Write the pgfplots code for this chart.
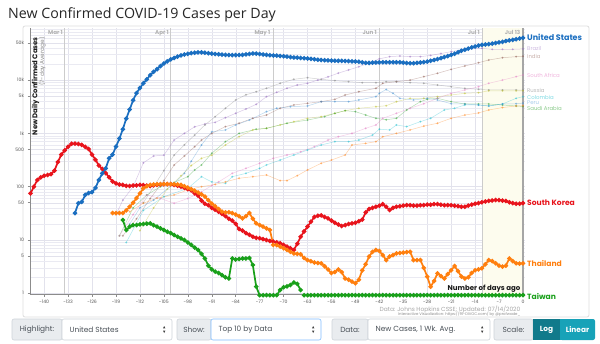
\documentclass[border=0pt]{standalone}
\usepackage{fontspec}
\setmainfont{Poppins}
\newfontfamily\titlefont{Open Sans}
\usepackage{pgfplots}
\pgfplotsset{compat=1.18}
\definecolor{usblue}{HTML}{1A6EC0}
\definecolor{skred}{HTML}{E8141C}
\definecolor{thor}{HTML}{FF7F0E}
\definecolor{twgreen}{HTML}{19A01A}
\definecolor{brpurple}{HTML}{9467BD}
\definecolor{inbrown}{HTML}{8C564B}
\definecolor{sapink}{HTML}{E377C2}
\definecolor{rugray}{HTML}{7F7F7F}
\definecolor{mxolive}{HTML}{BCBD22}
\definecolor{cocyan}{HTML}{17BECF}
\definecolor{peblue}{HTML}{3B8ED0}
\definecolor{sagreen}{HTML}{2CA02C}
\definecolor{arorange}{HTML}{FF7F0E}
\definecolor{gridc}{HTML}{EAEAF2}
\definecolor{gridm}{HTML}{E2E2EC}
\definecolor{lblbg}{HTML}{E9ECEF}
\definecolor{lblbd}{HTML}{CED4DA}
\definecolor{lbltx}{HTML}{495057}
\definecolor{focus}{HTML}{80BDFF}
\definecolor{tealdk}{HTML}{117A8B}
\definecolor{tealbtn}{HTML}{17A2B8}
\definecolor{recentbg}{HTML}{FDFCEE}
\begin{document}
\begin{tikzpicture}[x=1pt,y=1pt]
\useasboundingbox (0,0) rectangle (600,343);
\fill[white] (0,0) rectangle (600,343);
% container
\draw[black!13, line width=0.8pt, rounded corners=2pt] (23,26) rectangle (589,317);
% title
\node[anchor=base west, inner sep=0, font=\titlefont\fontsize{14.2}{14}\selectfont, text=black!85] at (8,324.5) {New Confirmed COVID-19 Cases per Day};

\begin{axis}[
  at={(30.5pt,49pt)}, anchor=south west, scale only axis,
  width=494.2pt, height=266pt,
  xmin=-144, xmax=0.5, ymode=log, ymin=0.97, ymax=94900,
  clip=false,
  axis x line*=bottom, axis y line*=left,
  axis line style={black!45, line width=0.6pt},
  tick align=outside, major tick length=3pt, minor tick length=0pt,
  tick style={black!45, line width=0.5pt},
  xtick={-140,-133,...,0},
  xticklabels={-140,-133,-126,-119,-112,-105,-98,-91,-84,-77,-70,-63,-56,-49,-42,-35,-28,-21,-14,-7,0},
  ytick={1,5,10,50,100,500,1000,5000,10000,50000},
  yticklabels={1,5,10,50,100,500,1k,5k,10k,50k},
  minor ytick={2,3,4,6,7,8,9,20,30,40,60,70,80,90,200,300,400,600,700,800,900,2000,3000,4000,6000,7000,8000,9000,20000,30000,40000,60000,70000,80000,90000},
  xmajorgrids, ymajorgrids, yminorgrids,
  major grid style={gridm, line width=0.4pt},
  minor grid style={gridc, line width=0.4pt},
  /pgf/number format/assume math mode=true,
  xticklabel style={font=\fontsize{4.6}{5}\selectfont, text=black!65},
  yticklabel style={font=\fontsize{4.6}{5}\selectfont, text=black!65},
  faint/.style={line width=0.5pt, mark=*, mark size=0.8pt, opacity=0.35},
  main/.style={line width=1.7pt, mark=*, mark size=1.3pt},
]
% recent shading
\fill[recentbg] (axis cs:-12,0.97) rectangle (axis cs:0,94900);
% month lines
\foreach \d in {-134,-103,-73,-42,-12} {
  \edef\tmp{\noexpand\draw[black!20, line width=0.7pt] (axis cs:\d,0.97) -- (axis cs:\d,94900);}
  \tmp
}

% faint series
\addplot[faint, color=brpurple] coordinates {(-119,30) (-117,56) (-114,100) (-111,280) (-108,377) (-105,390) (-102,750) (-99,1000) (-96,1330) (-93,1500) (-90,1610) (-87,1970) (-84,2380) (-81,2870) (-78,3510) (-75,4890) (-72,5900) (-69,7020) (-66,8090) (-63,8710) (-60,10000) (-57,11500) (-54,13500) (-51,15500) (-48,17800) (-45,21000) (-42,25000) (-39,27500) (-36,28300) (-33,27500) (-30,27500) (-27,29000) (-24,31500) (-21,34100) (-18,37000) (-15,39000) (-12,39500) (-9,37800) (-6,37800) (-3,37800) (0,38500)};
\addplot[faint, color=inbrown] coordinates {(-117,12) (-113,25) (-109,60) (-105,130) (-102,255) (-99,377) (-96,563) (-94,750) (-91,1000) (-87,1340) (-83,1550) (-79,1920) (-75,2210) (-71,2960) (-67,3410) (-63,3670) (-59,3940) (-55,4360) (-52,5250) (-48,6060) (-43,7010) (-41,8710) (-37,9330) (-33,10000) (-29,11600) (-25,13400) (-21,15900) (-17,18400) (-13,21200) (-10,23800) (-6,26300) (-2,27500) (0,28000)};
\addplot[faint, color=rugray] coordinates {(-111,50) (-108,100) (-105,200) (-102,390) (-99,610) (-96,930) (-93,1440) (-90,2060) (-87,2960) (-84,4240) (-81,5300) (-78,6060) (-75,7010) (-71,8710) (-67,10350) (-63,11100) (-59,10350) (-55,9750) (-51,9330) (-47,8940) (-43,8940) (-40,9330) (-37,9330) (-33,8940) (-29,8710) (-25,8090) (-21,7510) (-17,7010) (-13,6710) (-10,6520) (-6,6520) (-2,6520) (0,6500)};
\addplot[faint, color=mxolive] coordinates {(-112,15) (-108,40) (-104,90) (-100,160) (-97,250) (-94,340) (-91,390) (-87,606) (-83,867) (-79,1160) (-75,1245) (-71,1440) (-67,1660) (-63,1920) (-59,2060) (-55,2380) (-52,2670) (-48,2960) (-43,3170) (-40,3300) (-37,3940) (-33,4550) (-29,4550) (-25,4890) (-21,5250) (-17,5650) (-13,5800) (-10,6300) (-6,6300) (-2,6300) (0,6300)};
\addplot[faint, color=sagreen] coordinates {(-118,12) (-114,40) (-110,70) (-106,100) (-102,120) (-98,154) (-96,206) (-94,256) (-91,423) (-87,700) (-83,1000) (-78,1200) (-75,1245) (-69,1550) (-63,1780) (-58,2060) (-55,2380) (-52,2670) (-49,2560) (-46,2210) (-43,1920) (-40,1800) (-37,1920) (-34,2750) (-30,3940) (-28,4360) (-25,4550) (-21,3940) (-17,3560) (-13,3560) (-10,3560) (-6,3410) (-2,3270) (0,3200)};
\addplot[faint, color=cocyan] coordinates {(-116,9) (-111,36) (-105,65) (-98,93) (-94,154) (-91,123) (-87,116) (-85,154) (-81,178) (-77,221) (-75,256) (-71,316) (-67,393) (-63,488) (-59,606) (-55,700) (-51,700) (-48,750) (-44,930) (-42,1200) (-39,1160) (-37,1440) (-34,1340) (-30,1660) (-27,1920) (-23,2750) (-20,2960) (-17,3410) (-13,3410) (-10,3270) (-6,3560) (-2,4550) (0,4890)};
\addplot[faint, color=peblue] coordinates {(-115,20) (-112,40) (-108,56) (-102,116) (-99,178) (-97,300) (-94,606) (-91,1070) (-87,1160) (-84,1440) (-80,1780) (-75,2560) (-72,2960) (-68,3170) (-63,3270) (-59,3940) (-55,3940) (-51,3940) (-48,4240) (-43,4890) (-42,5650) (-40,6650) (-38,5650) (-36,4550) (-32,4240) (-28,4550) (-25,4240) (-21,3600) (-17,3560) (-13,3410) (-10,3270) (-6,3560) (-2,3600) (0,3700)};
\addplot[faint, color=arorange] coordinates {(-115,34) (-111,49) (-107,61) (-102,70) (-98,87) (-94,100) (-90,110) (-87,123) (-83,144) (-79,154) (-75,166) (-71,130) (-69,130) (-66,161) (-63,206) (-59,275) (-56,316) (-52,393) (-50,606) (-46,650) (-43,700) (-41,867) (-37,1000) (-33,1160) (-29,1370) (-25,1550) (-21,1920) (-17,2210) (-13,2420) (-10,2750) (-6,3050) (-2,3270) (0,3300)};
\addplot[faint, color=sapink] coordinates {(-118,12) (-114,30) (-110,70) (-106,60) (-102,49) (-98,60) (-94,80) (-91,105) (-89,123) (-85,178) (-81,221) (-77,275) (-73,341) (-69,393) (-65,453) (-61,563) (-57,750) (-54,867) (-50,1000) (-46,1245) (-43,1440) (-41,1920) (-37,2380) (-33,2960) (-29,3600) (-25,4550) (-21,5650) (-17,6520) (-13,7510) (-10,8710) (-6,10000) (-2,11600) (0,12500)};

% Taiwan
\addplot[main, color=twgreen] coordinates {(-117,23.7) (-116,15.4) (-115,17.8) (-114,19) (-113,19.1) (-112,19.6) (-111,20) (-110,20.2) (-109,20.5) (-108,19) (-107,17.8) (-106,16.5) (-105,15.4) (-104,14.3) (-103,13.4) (-102,12.4) (-101,11.5) (-100,10.7) (-99,10) (-98,9) (-97,8.1) (-96,7.2) (-95,6.5) (-94,5.5) (-93,4.5) (-92,3.3) (-91,2.8) (-90,2.55) (-89,2.4) (-88,2.2) (-87,2.0) (-86,1.9) (-85,4.5) (-84,4.3) (-83,4.4) (-82,4.5) (-81,4.5) (-80,4.6) (-79,3.4) (-78,1.33) (-77,0.92) (-76,0.92) (-75,0.92) (-74,0.92) (-73,0.92) (-72,0.92) (-71,1.15) (-70,1.3) (-69,1.35) (-68,1.43) (-67,1.6) (-66,1.5) (-65,1.15)};
\addplot[main, color=twgreen] table {
x y
-64 0.92
-63 0.92
-62 0.92
-61 0.92
-60 0.92
-59 0.92
-58 0.92
-57 0.92
-56 0.92
-55 0.92
-54 0.92
-53 0.92
-52 0.92
-51 0.92
-50 0.92
-49 0.92
-48 0.92
-47 0.92
-46 0.92
-45 0.92
-44 0.92
-43 0.92
-42 0.92
-41 0.92
-40 0.92
-39 0.92
-38 0.92
-37 0.92
-36 0.92
-35 0.92
-34 0.92
-33 0.92
-32 0.92
-31 0.92
-30 0.92
-29 0.92
-28 0.92
-27 0.92
-26 0.92
-25 0.92
-24 0.92
-23 0.92
-22 0.92
-21 0.92
-20 0.92
-19 0.92
-18 0.92
-17 0.92
-16 0.92
-15 0.92
-14 0.92
-13 0.92
-12 0.92
-11 0.92
-10 0.92
-9 0.92
-8 0.92
-7 0.92
-6 0.92
-5 0.92
-4 0.92
-3 0.92
-2 0.92
-1 0.92
0 0.92
};

% South Korea
\addplot[main, color=skred] coordinates {(-144,75) (-143,100) (-142,134) (-141,150) (-140,160) (-139,166) (-138,172) (-137,200) (-136,290) (-135,400) (-134,480) (-133,560) (-132,640) (-131,645) (-130,633) (-129,610) (-128,560) (-127,510) (-126,400) (-125,320) (-124,250) (-123,215) (-122,180) (-121,150) (-120,125) (-119,115) (-118,110) (-117,108) (-116,104) (-115,103) (-114,105) (-113,106) (-112,108) (-111,107) (-110,105) (-109,103) (-108,106) (-107,108) (-106,110) (-105,111) (-104,112) (-103,112) (-102,108) (-101,104) (-100,100) (-99,95) (-98,90) (-97,85) (-96,75) (-95,68) (-94,55) (-93,48) (-92,45) (-91,40) (-90,37) (-89,34) (-88,31) (-87,28) (-86,25) (-85,23) (-84,20) (-83,16) (-82,15) (-81,13.5) (-80,12.5) (-79,11.5) (-78,11) (-77,10.8) (-76,10.4) (-75,10) (-74,9.6) (-73,9.3) (-72,9) (-71,8.7) (-70,8.1) (-69,7.5) (-68,7) (-67,6.5) (-66,8.5) (-65,11.5) (-64,14.5) (-63,17.8) (-62,22) (-61,27) (-60,28.5) (-59,29) (-58,27) (-57,25.5) (-56,23) (-55,21) (-54,19.5) (-53,18.3) (-52,19) (-51,20) (-50,20.5) (-49,21) (-48,22.5) (-47,24) (-46,33) (-45,38) (-44,40) (-43,42) (-42,44) (-41,47) (-40,42) (-39,36.5) (-38,40) (-37,42) (-36,43) (-35,44) (-34,45) (-33,45) (-32,44) (-31,44) (-30,45) (-29,45) (-28,46) (-27,46) (-26,47) (-25,47) (-24,46) (-23,45) (-22,45) (-21,45) (-20,44) (-19,43) (-18,42) (-17,42) (-16,44) (-15,46) (-14,48) (-13,49) (-12,51) (-11,53) (-10,54) (-9,55) (-8,56) (-7,56) (-6,55) (-5,54) (-4,51) (-3,49) (-2,48) (-1,48) (0,49)};

% Thailand
\addplot[main, color=thor] coordinates {(-120,32) (-119,32) (-118,32) (-117,32) (-116,36) (-115,42) (-114,50) (-113,61) (-112,75) (-111,93) (-110,102) (-109,108) (-108,110) (-107,111) (-106,112) (-105,112) (-104,112) (-103,112) (-102,111) (-101,110) (-100,108) (-99,102) (-98,96) (-97,90) (-96,84) (-95,78) (-94,72) (-93,65) (-92,56) (-91,48) (-90,43) (-89,38) (-88,34) (-87,33) (-86,33) (-85,32) (-84,30) (-83,28) (-82,25.5) (-81,28) (-80,32) (-79,25) (-78,20.6) (-77,19) (-76,17.8) (-75,16.5) (-74,15.4) (-73,8.1) (-72,8) (-71,7.5) (-70,7) (-69,6.5) (-68,6) (-67,5.6) (-66,5.5) (-65,5.4) (-64,4.6) (-63,4.2) (-62,4) (-61,3.8) (-60,3.7) (-59,3.65) (-58,3.2) (-57,2.8) (-56,2.4) (-55,2.5) (-54,2.8) (-53,2.5) (-52,1.9) (-51,1.8) (-50,1.65) (-49,1.54) (-48,1.8) (-47,2.7) (-46,3.5) (-45,4.9) (-44,6) (-43,6.5) (-42,6.2) (-41,5.2) (-40,4.2) (-39,4.9) (-38,5.2) (-37,5.6) (-36,5.7) (-35,5.8) (-34,5.9) (-33,6.0) (-32,4.2) (-31,4.2) (-30,4.2) (-29,3) (-28,2.05) (-27,1.33) (-26,1.7) (-25,2.37) (-24,2.1) (-23,1.9) (-22,2.3) (-21,2.7) (-20,3.25) (-19,2.6) (-18,2.05) (-17,1.9) (-16,2.0) (-15,2.4) (-14,2.7) (-13,2.8) (-12,2.95) (-11,3.5) (-10,4.2) (-9,4.0) (-8,3.65) (-7,3.3) (-6,3.16) (-5,3.3) (-4,4.5) (-3,4.0) (-2,3.65) (-1,3.6) (0,3.65)};

% United States
\addplot[main, color=usblue] coordinates {(-131,32) (-130,49) (-129,52) (-128,70) (-127,76) (-126,79) (-125,95) (-124,134) (-123,178) (-122,221) (-121,341) (-120,400) (-119,563) (-118,800) (-117,1200) (-116,1900) (-115,2800) (-114,4200) (-113,5700) (-112,7100) (-111,8700) (-110,10300) (-109,12400) (-108,14300) (-107,16000) (-106,18300) (-105,20400) (-104,22400) (-103,24400) (-102,26000) (-101,27600) (-100,29200) (-99,30200) (-98,31000) (-97,32000) (-96,32600) (-95,33100) (-94,33200) (-93,32600) (-92,32000) (-91,31400) (-90,30800) (-89,30400) (-88,30000) (-87,29700) (-86,29500) (-85,29500) (-84,29500) (-83,29600) (-82,29800) (-81,30400) (-80,31000) (-79,31500) (-78,31500) (-77,30800) (-76,30200) (-75,29700) (-74,29300) (-73,29000) (-72,28700) (-71,28300) (-70,28000) (-69,27500) (-68,27000) (-67,26600) (-66,26300) (-65,26000) (-64,25800) (-63,25400) (-62,25000) (-61,24500) (-60,24100) (-59,23800) (-58,23600) (-57,23400) (-56,23200) (-55,23100) (-54,23000) (-53,22900) (-52,22800) (-51,22700) (-50,22500) (-49,22300) (-48,22100) (-47,21500) (-46,21000) (-45,21000) (-44,21200) (-43,21400) (-42,21500) (-41,21600) (-40,21600) (-39,21600) (-38,21600) (-37,21600) (-36,21500) (-35,21200) (-34,20900) (-33,20700) (-32,20700) (-31,21000) (-30,21300) (-29,21700) (-28,22200) (-27,23000) (-26,23800) (-25,24700) (-24,25800) (-23,27000) (-22,28300) (-21,29700) (-20,31200) (-19,33300) (-18,35500) (-17,37200) (-16,39000) (-15,41000) (-14,42800) (-13,44400) (-12,45800) (-11,46600) (-10,47300) (-9,48300) (-8,49500) (-7,50900) (-6,52300) (-5,53900) (-4,55500) (-3,57000) (-2,58600) (-1,60300) (0,62000)};

% day-0 line
\draw[black!35, line width=1.3pt] (axis cs:0,0.97) -- (axis cs:0,94900);
\end{axis}

% month labels (x px = 523 + 3.42 d)
\begin{scope}[every node/.style={anchor=base east, inner sep=0, font=\bfseries\fontsize{5.6}{6}\selectfont, text=black!30}]
\node at (63,308) {Mar 1};
\node at (169,308) {Apr 1};
\node at (270.5,308) {May 1};
\node at (377,308) {Jun 1};
\node at (480,308) {Jul 1};
\node at (520.5,308) {Jul 13};
\end{scope}

% y axis label
\node[rotate=90, anchor=south east, inner sep=0, font=\bfseries\fontsize{6.9}{7}\selectfont, text=black!90] at (39.5,306) {New Daily Confirmed Cases};
\node[rotate=90, anchor=south east, inner sep=0, font=\fontsize{5.8}{6}\selectfont, text=black!45] at (46,306) {(7-day Average)};

% right labels
\begin{scope}[every node/.style={anchor=west, inner sep=0}]
\node[font=\bfseries\fontsize{8}{8}\selectfont, text=usblue] at (527,306) {United States};
\node[font=\fontsize{5.4}{6}\selectfont, text=brpurple!45] at (527,295) {Brazil};
\node[font=\fontsize{5.4}{6}\selectfont, text=inbrown!45] at (527,286.5) {India};
\node[font=\fontsize{5.4}{6}\selectfont, text=sapink!55] at (527,268) {South Africa};
\node[font=\fontsize{5.4}{6}\selectfont, text=rugray!55] at (527,253) {Russia};
\node[font=\fontsize{5.4}{6}\selectfont, text=cocyan!55] at (527,246) {Colombia};
\node[font=\fontsize{5.4}{6}\selectfont, text=peblue!45] at (527,240.2) {Peru};
\node[font=\fontsize{5.4}{6}\selectfont, text=sagreen!55] at (527,234.5) {Saudi Arabia};
\node[font=\bfseries\fontsize{7.6}{8}\selectfont, text=skred] at (527,140) {South Korea};
\node[font=\bfseries\fontsize{7.6}{8}\selectfont, text=thor] at (527,80) {Thailand};
\node[font=\bfseries\fontsize{7.6}{8}\selectfont, text=twgreen] at (527,47) {Taiwan};
\end{scope}

% annotations
\node[anchor=base east, inner sep=0, font=\bfseries\fontsize{7}{7}\selectfont, text=black!90] at (520.5,52.5) {Number of days ago};
\node[anchor=base east, inner sep=0, font=\fontsize{5.9}{6}\selectfont, text=black!35] at (520.5,32) {Data: Johns Hopkins CSSE; Updated: 07/14/2020};
\node[anchor=base east, inner sep=0, font=\fontsize{3.8}{4}\selectfont, text=black!45] at (520.5,27.5) {Interactive Visualization: https://91-DIVOC.com/ by @profwade\_};

% control bar
\begin{scope}[line width=0.6pt]
\newcommand\lbl[3]{\filldraw[fill=lblbg, draw=lblbd, rounded corners=2pt] (#1,3) rectangle (#2,24);
  \node[font=\fontsize{7.4}{8}\selectfont, text=lbltx] at ({(#1+#2)/2},13.5) {#3};}
\newcommand\sel[4]{\filldraw[fill=white, draw=#4, rounded corners=2pt] (#1,3) rectangle (#2,24);
  \node[anchor=west, font=\fontsize{7.4}{8}\selectfont, text=lbltx] at (#1+4,13.5) {#3};
  \fill[black!75] (#2-9,14.6) -- (#2-6.6,14.6) -- (#2-7.8,17) -- cycle;
  \fill[black!75] (#2-9,12.4) -- (#2-6.6,12.4) -- (#2-7.8,10) -- cycle;}
\lbl{12}{62}{Highlight:}
\sel{62}{172}{United States}{lblbd}
\lbl{177}{211}{Show:}
\sel{211}{321}{Top 10 by Data}{focus}
\lbl{332}{368}{Data:}
\sel{368}{490}{New Cases, 1 Wk. Avg.}{lblbd}
\lbl{494}{533}{Scale:}
\fill[tealdk] (533,3) rectangle (560,24);
\node[font=\bfseries\fontsize{7.4}{8}\selectfont, text=white] at (546.5,13.5) {Log};
\fill[tealbtn, rounded corners=2pt] (560,3) rectangle (595,24);
\fill[tealbtn] (560,3) rectangle (565,24);
\node[font=\bfseries\fontsize{7.4}{8}\selectfont, text=white] at (577.5,13.5) {Linear};
\end{scope}
\end{tikzpicture}
\end{document}
